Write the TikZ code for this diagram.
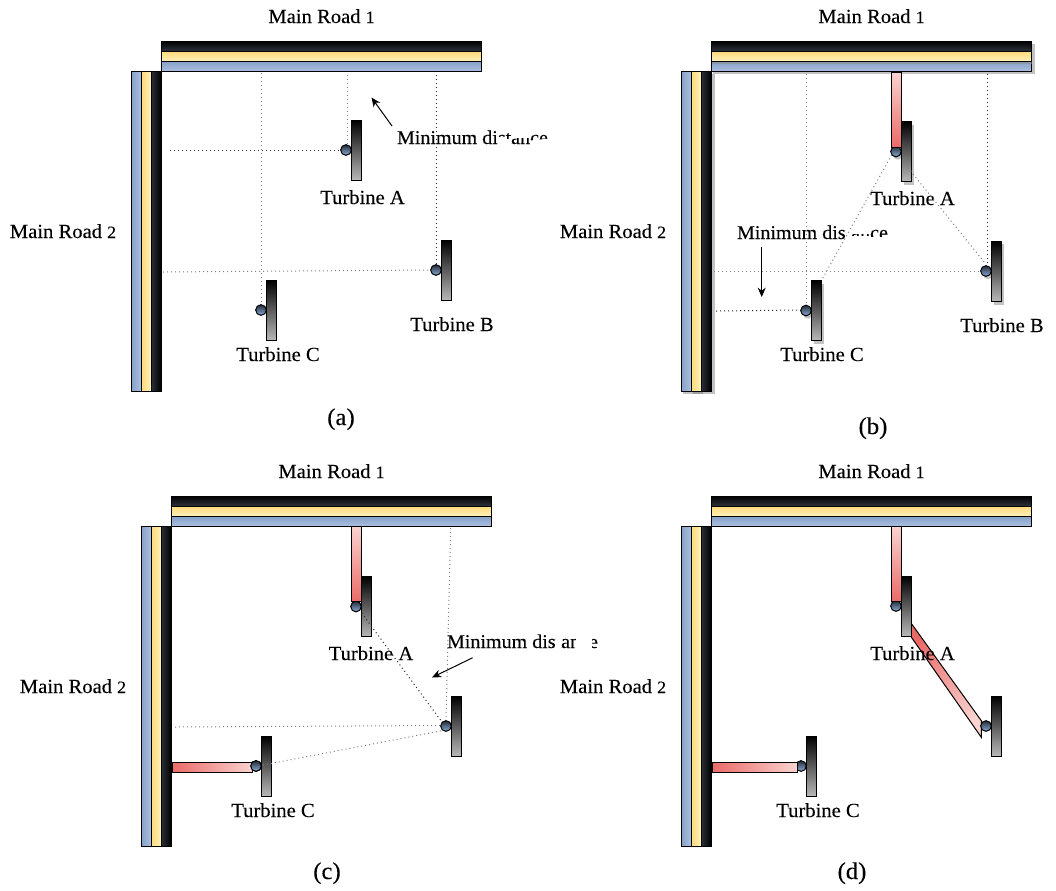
\documentclass[tikz,border=0pt]{standalone}
\usepackage{fontspec}
\usetikzlibrary{arrows.meta}
\setmainfont[FakeStretch=1.03,FakeBold=0.12]{Liberation Serif}
\newcommand{\osn}[1]{{\fontsize{13pt}{13pt}\selectfont #1}}
\definecolor{hubtop}{HTML}{222B38}
\definecolor{hubmid}{HTML}{587393}
\definecolor{hubbot}{HTML}{8DAEDA}
\definecolor{pinkpale}{HTML}{F9D3CF}
\definecolor{pinkdeep}{HTML}{EA6A68}
\definecolor{bluedark}{HTML}{869FC6}
\definecolor{bluelite}{HTML}{A9BFE0}
\definecolor{yellowa}{HTML}{FFEFB8}
\definecolor{yellowb}{HTML}{FFDA7A}
\definecolor{blacka}{HTML}{2C323A}
\tikzset{
  x=0.75pt,y=-0.75pt,
  lab/.style={font=\fontsize{15pt}{15pt}\selectfont,inner sep=0,outer sep=0,anchor=base,text=black},
  mind/.style={font=\fontsize{14.6pt}{15pt}\selectfont,inner sep=0,outer sep=0,anchor=base west,text=black},
  captext/.style={font=\fontsize{18pt}{18pt}\selectfont,inner sep=0,outer sep=0,anchor=base,text=black},
  hband/.style={draw=black,line width=0.75pt,rectangle,inner sep=0,outer sep=0,minimum width=240.4pt,minimum height=7.5pt},
  vband/.style={draw=black,line width=0.75pt,rectangle,inner sep=0,outer sep=0,minimum width=7.5pt,minimum height=240pt},
  towerbox/.style={draw=black,line width=0.75pt,rectangle,inner sep=0,outer sep=0,minimum width=7.5pt,minimum height=45pt,top color=black,bottom color=black!28},
  hubdot/.style={draw=black,line width=0.75pt,circle,inner sep=0,outer sep=0,minimum size=8pt,top color=hubtop,middle color=hubmid,bottom color=hubbot},
  pinkbox/.style={draw=black,line width=0.75pt,rectangle,inner sep=0,outer sep=0},
  dotk/.style={draw=black!85,line width=0.75pt,dash pattern=on 0.75pt off 2.25pt},
  dotg/.style={draw=black!50,line width=0.75pt,dash pattern=on 0.75pt off 2.25pt},
  shad/.style={fill=black!24,draw=none},
  arr/.style={draw=black,line width=0.75pt,-{Stealth[length=7pt,width=6pt]}},
  mask/.style={fill=white,draw=none}
}
% prefix, shift x, shift y
\newcommand{\roadset}[3]{%
  \begin{scope}[shift={(#2,#3)}]
    \node[hband,top color=black,bottom color=blacka] (#1HK) at (321.5,46) {};
    \node[hband,top color=yellowb,bottom color=yellowa] (#1HY) at (321.5,56) {};
    \node[hband,top color=bluedark,bottom color=bluelite] (#1HB) at (321.5,66) {};
    \node[vband,left color=bluedark,right color=bluelite] (#1VB) at (136,231) {};
    \node[vband,left color=yellowb,right color=yellowa] (#1VY) at (146,231) {};
    \node[vband,left color=blacka,right color=black] (#1VK) at (156,231) {};
  \end{scope}}
% name, hub x, hub y
\newcommand{\turbineat}[3]{%
  \node[towerbox] (#1T) at (#2+10.5,#3) {};
  \node[hubdot] (#1H) at (#2,#3) {};}
\newcommand{\turbineshadow}[2]{%
  \fill[shad] (#1+7.5,#2-27) rectangle (#1+18,#2+33.5);
  \fill[shad] (#1+2,#2+3) circle (5.2);}
\begin{document}
\begin{tikzpicture}
\useasboundingbox (0,0) rectangle (1056,890);
\fill[white] (0,0) rectangle (1056,890);

%% ---------- panel (a)
\roadset{a}{0}{0}
\turbineat{aA}{346}{150}
\turbineat{aB}{436}{270}
\turbineat{aC}{261}{310}
\node[lab] (aR1) at (321.5,23) {Main Road \osn{1}};
\node[lab] (aR2) at (63,238) {Main Road \osn{2}};
\node[lab] (aLA) at (362.5,204) {Turbine A};
\node[lab] (aLB) at (452,331) {Turbine B};
\node[lab] (aLC) at (278,361) {Turbine C};
\node[mind] (aM) at (397,144) {Minimum distance};
\fill[mask] (498,137) rectangle (505.6,148);
\fill[mask] (505.6,139) rectangle (511.2,148);
\fill[mask] (511.2,128) rectangle (530,137.5);
\fill[mask] (530,140.5) -- (550,138.5) -- (550,148) -- (530,148) -- cycle;
\coordinate (a1) at (261.5,73); \coordinate (a1e) at (261.5,305);
\coordinate (a2) at (347,75);   \coordinate (a2e) at (347,145);
\coordinate (a3) at (436.5,75); \coordinate (a3e) at (436.5,265);
\coordinate (a4) at (170,150.5);\coordinate (a4e) at (341,150.5);
\coordinate (a5) at (163,272);  \coordinate (a5e) at (431,270);
\draw[dotg] (a1) -- (a1e);
\draw[dotg] (a2) -- (a2e);
\draw[dotk] (a3) -- (a3e);
\draw[dotk] (a4) -- (a4e);
\draw[dotg] (a5) -- (a5e);
\coordinate (aAs) at (392,126); \coordinate (aAe) at (371.5,97.5);
\draw[arr] (aAs) -- (aAe);
\node[captext] (aCap) at (341,425) {(a)};

%% ---------- panel (b)
\fill[shad] (713,44) rectangle (1035,74);
\fill[shad] (683,74) rectangle (715,394);
\fill[black!38] (693,391) rectangle (703,394);
\turbineshadow{896}{151.5}
\turbineshadow{986}{271}
\turbineshadow{806}{310.5}
\roadset{b}{550}{0}
\fill[black!45,opacity=.55] (712,61.5) rectangle (1031.5,64);
\turbineat{bA}{896}{151.5}
\turbineat{bB}{986}{271}
\turbineat{bC}{806}{310.5}
\node[pinkbox,minimum width=7.5pt,minimum height=56.25pt,top color=pinkpale,bottom color=pinkdeep] (bPA) at (896,109.5) {};
\node[lab] (bR1) at (871.5,23) {Main Road \osn{1}};
\node[lab] (bR2) at (613,238) {Main Road \osn{2}};
\node[lab] (bLA) at (912.5,205) {Turbine A};
\node[lab] (bLB) at (1002,332) {Turbine B};
\node[lab] (bLC) at (822,361) {Turbine C};
\node[mind] (bM) at (737,239) {Minimum distance};
\fill[mask] (845.6,224) rectangle (851.2,243);
\fill[mask] (851.2,224) rectangle (870,233.5);
\fill[mask] (851.2,236) rectangle (870,243);
\fill[mask] (870,237) rectangle (890,243);
\coordinate (b1) at (806.5,74); \coordinate (b1e) at (806.5,305);
\coordinate (b2) at (987,74);   \coordinate (b2e) at (987,266);
\coordinate (b3) at (714,271);  \coordinate (b3e) at (981,271);
\coordinate (b4) at (716,311);  \coordinate (b4e) at (800,310);
\coordinate (b5) at (891.7,155);\coordinate (b5e) at (821.7,280);
\coordinate (b6) at (903,161.7);\coordinate (b6e) at (985,263);
\draw[dotg] (b1) -- (b1e);
\draw[dotk] (b2) -- (b2e);
\draw[dotg] (b3) -- (b3e);
\draw[dotk] (b4) -- (b4e);
\draw[dotg] (b5) -- (b5e);
\draw[dotg] (b6) -- (b6e);
\coordinate (bAs) at (761.7,247); \coordinate (bAe) at (761.7,297);
\draw[arr] (bAs) -- (bAe);
\node[captext] (bCap) at (873,434) {(b)};

%% ---------- panel (c)
\roadset{c}{10}{455}
\turbineat{cA}{356}{606.5}
\turbineat{cB}{446}{726}
\turbineat{cC}{256}{766}
\node[pinkbox,minimum width=7.5pt,minimum height=56pt,top color=pinkpale,bottom color=pinkdeep] (cPA) at (356,564) {};
\node[pinkbox,minimum width=60pt,minimum height=7.5pt,left color=pinkdeep,right color=pinkpale] (cPC) at (212,767) {};
\node[hubdot] (cHC2) at (256,766) {};
\node[lab] (cR1) at (331.5,478) {Main Road \osn{1}};
\node[lab] (cR2) at (73,693) {Main Road \osn{2}};
\node[lab] (cLA) at (371,660) {Turbine A};
\node[lab] (cLC) at (273,817) {Turbine C};
\node[mind] (cM) at (447,648) {Minimum distance};
\fill[mask] (555.6,630) rectangle (561,652);
\fill[mask] (576,630) rectangle (592,652);
\coordinate (c1) at (450.7,528);\coordinate (c1e) at (446,720);
\coordinate (c2) at (175,727);  \coordinate (c2e) at (441,725.5);
\coordinate (c3) at (263,765);  \coordinate (c3e) at (441.7,730.7);
\coordinate (c4) at (361.7,613);\coordinate (c4e) at (441.7,721.7);
\draw[dotg] (c1) -- (c1e);
\draw[dotg] (c2) -- (c2e);
\draw[dotg] (c3) -- (c3e);
\draw[dotk] (c4) -- (c4e);
\coordinate (cAs) at (472.7,657.7); \coordinate (cAe) at (432,677.5);
\draw[arr] (cAs) -- (cAe);
\node[captext] (cCap) at (327,879) {(c)};

%% ---------- panel (d)
\roadset{d}{550}{455}
\coordinate (dQ1) at (911,623);
\coordinate (dQ2) at (981.3,720.7);
\coordinate (dQ3) at (981.3,737.3);
\coordinate (dQ4) at (911,636.7);
\draw[line width=0.75pt,left color=pinkdeep,right color=pinkpale,shading angle=36] (dQ1) -- (dQ2) -- (dQ3) -- (dQ4) -- cycle;
\turbineat{dA}{896}{606}
\turbineat{dB}{986}{726}
\turbineat{dC}{801}{766}
\node[pinkbox,minimum width=7.5pt,minimum height=56pt,top color=pinkpale,bottom color=pinkdeep] (dPA) at (896,564) {};
\node[pinkbox,minimum width=63.75pt,minimum height=7.5pt,left color=pinkdeep,right color=pinkpale] (dPC) at (754.5,767) {};
\node[lab] (dR1) at (871.5,478) {Main Road \osn{1}};
\node[lab] (dR2) at (613,693) {Main Road \osn{2}};
\node[lab] (dLA) at (912.5,660) {Turbine A};
\node[lab] (dLC) at (818,817) {Turbine C};
\node[captext] (dCap) at (852,879) {(d)};
\end{tikzpicture}
\end{document}
